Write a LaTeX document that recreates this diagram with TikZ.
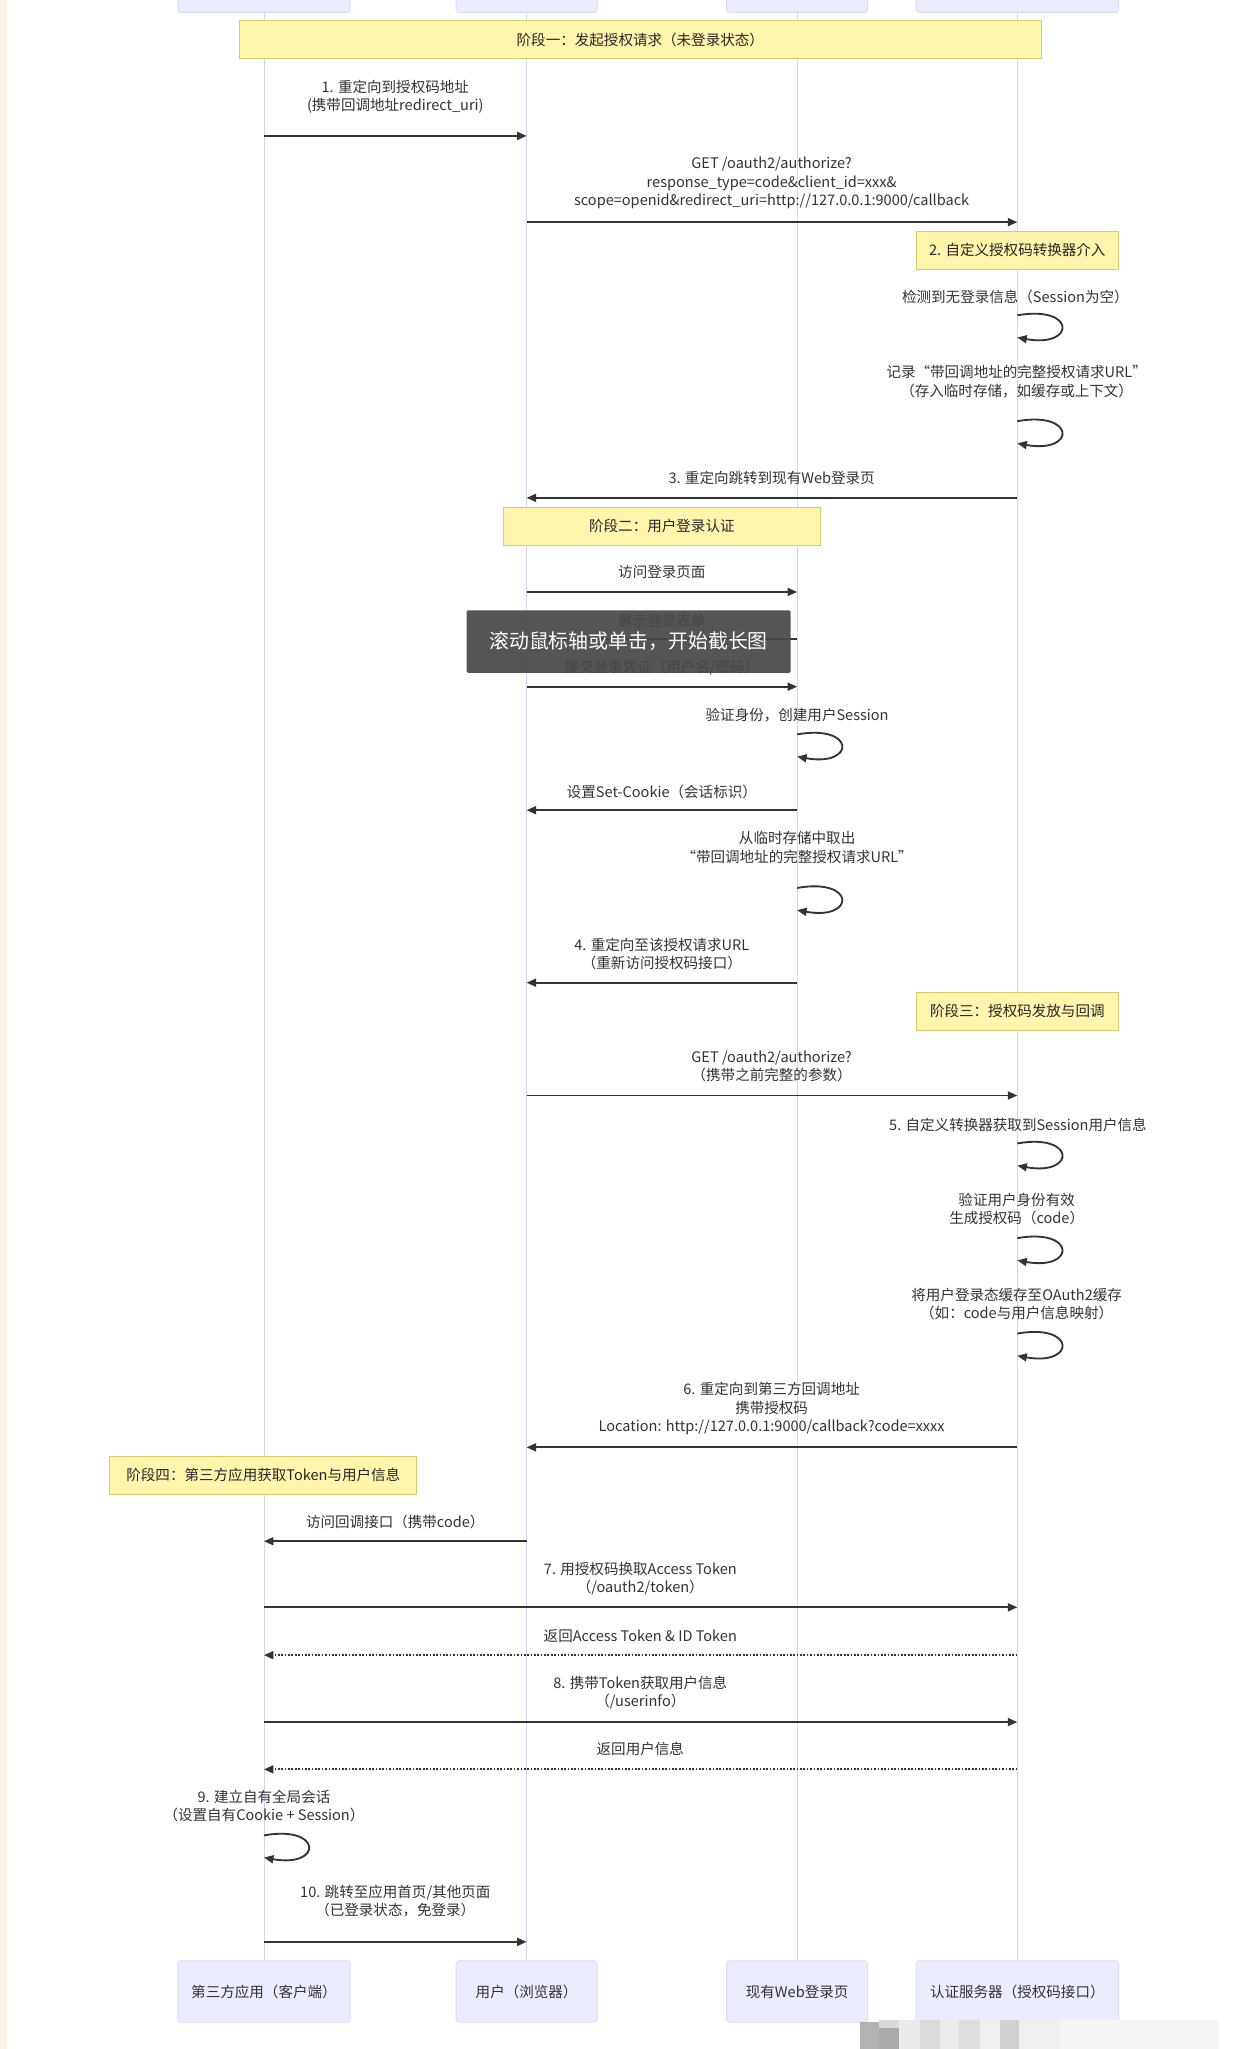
\documentclass[tikz,border=0pt]{standalone}
\usepackage{fontspec}
\setmainfont{Noto Sans CJK SC}
\usepackage{tikz}
\usetikzlibrary{arrows.meta}
\definecolor{lifelavender}{RGB}{214,212,245}
\definecolor{boxfill}{RGB}{236,236,255}
\definecolor{boxline}{RGB}{220,220,244}
\definecolor{notefill}{RGB}{255,245,173}
\definecolor{noteline}{RGB}{214,206,110}
\definecolor{msgdark}{RGB}{51,51,51}
\definecolor{creamedge}{RGB}{248,245,232}

\tikzset{
  actor/.style={draw=boxline, fill=boxfill, rounded corners=2pt, line width=0.6pt,
    inner sep=0pt, minimum height=1.41cm, text=msgdark, font=\fontsize{9.5}{12}\selectfont},
  stagenote/.style={draw=noteline, fill=notefill, line width=0.6pt, inner sep=0pt,
    minimum height=0.87cm, text=black!85, font=\fontsize{9.5}{12}\selectfont},
  life/.style={draw=lifelavender, line width=0.6pt},
  msg/.style={draw=msgdark, line width=1.2pt, -{Triangle[length=6.2pt,width=5.2pt]}},
  reply/.style={msg, dash pattern=on 1.1pt off 1.1pt},
  lbl/.style={text=msgdark, align=center, inner sep=0pt, font=\fontsize{9.5}{11.9}\selectfont},
}

\begin{document}
\begin{tikzpicture}[x=0.03cm, y=-0.03cm]
    % Canvas
    \useasboundingbox (0,0) rectangle (963,1568);
    \fill[white] (0,0) rectangle (963,1568);
    \fill[creamedge] (0,0) rectangle (5,1568);

    % Participants, top row (cut by the page edge)
    \node[actor, minimum width=3.96cm] (cliT) at (202,-14) {};
    \node[actor, minimum width=3.24cm] (usrT) at (403,-14) {};
    \node[actor, minimum width=3.24cm] (webT) at (610,-14) {};
    \node[actor, minimum width=4.65cm] (srvT) at (778.5,-14) {};

    % Participants, bottom row
    \node[actor, minimum width=3.96cm] (cli) at (202,1524) {第三方应用（客户端）};
    \node[actor, minimum width=3.24cm] (usr) at (403,1524) {用户（浏览器）};
    \node[actor, minimum width=3.24cm] (web) at (610,1524) {现有Web登录页};
    \node[actor, minimum width=4.65cm] (srv) at (778.5,1524) {认证服务器（授权码接口）};

    % Lifelines
    \draw[life] (cliT.south) -- (cli.north);
    \draw[life] (usrT.south) -- (usr.north);
    \draw[life] (webT.south) -- (web.north);
    \draw[life] (srvT.south) -- (srv.north);

    % Stage notes
    \node[stagenote, minimum width=18.42cm] (stage1) at (490,30.5) {阶段一：发起授权请求（未登录状态）};
    \node[stagenote, minimum width=4.65cm] (conv) at (778.5,191.5) {2. 自定义授权码转换器介入};
    \node[stagenote, minimum width=7.29cm] (stage2) at (506.5,402.8) {阶段二：用户登录认证};
    \node[stagenote, minimum width=4.65cm] (stage3) at (778.5,773.8) {阶段三：授权码发放与回调};
    \node[stagenote, minimum width=7.05cm] (stage4) at (201.5,1129) {阶段四：第三方应用获取Token与用户信息};

    % Stage one
    \node[lbl] (l1) at (302.5,74.2) {1. 重定向到授权码地址\\(携带回调地址redirect\_uri)};
    \coordinate (m1) at (0,104);
    \draw[msg] (cli |- m1) -- (usr |- m1);

    \node[lbl] (l2) at (590.5,140) {GET /oauth2/authorize?\\response\_type=code\&client\_id=xxx\&\\scope=openid\&redirect\_uri=http://127.0.0.1:9000/callback};
    \coordinate (m2) at (0,170);
    \draw[msg] (usr |- m2) -- (srv |- m2);

    \node[lbl] (l3) at (777,227) {检测到无登录信息（Session为空）};
    \coordinate (s1a) at (0,241.3);
    \coordinate (s1b) at (0,258.3);
    \draw[msg] (srv |- s1a) .. controls +(45,-8) and +(45,8) .. (srv |- s1b);

    \node[lbl] (l4) at (778,292) {记录“带回调地址的完整授权请求URL”\\（存入临时存储，如缓存或上下文）};
    \coordinate (s2a) at (0,322.3);
    \coordinate (s2b) at (0,339.3);
    \draw[msg] (srv |- s2a) .. controls +(45,-8) and +(45,8) .. (srv |- s2b);

    \node[lbl] (l5) at (590.5,366) {3. 重定向跳转到现有Web登录页};
    \coordinate (m3) at (0,381);
    \draw[msg] (srv |- m3) -- (usr |- m3);

    % Stage two
    \node[lbl] (l6) at (506.5,438) {访问登录页面};
    \coordinate (m4) at (0,453);
    \draw[msg] (usr |- m4) -- (web |- m4);

    \node[lbl] (l7) at (506.5,475) {展示登录表单};
    \coordinate (m5) at (0,489);
    \draw[msg] (web |- m5) -- (usr |- m5);

    \node[lbl] (l8) at (506.5,511) {提交登录凭证（用户名/密码）};
    \coordinate (m6) at (0,525.5);
    \draw[msg] (usr |- m6) -- (web |- m6);

    \node[lbl] (l9) at (610,547.6) {验证身份，创建用户Session};
    \coordinate (s3a) at (0,562);
    \coordinate (s3b) at (0,579);
    \draw[msg] (web |- s3a) .. controls +(45,-8) and +(45,8) .. (web |- s3b);

    \node[lbl] (l10) at (506.5,605.8) {设置Set-Cookie（会话标识）};
    \coordinate (m7) at (0,620);
    \draw[msg] (web |- m7) -- (usr |- m7);

    \node[lbl] (l11) at (610,648.6) {从临时存储中取出\\“带回调地址的完整授权请求URL”};
    \coordinate (s4a) at (0,679.5);
    \coordinate (s4b) at (0,696.5);
    \draw[msg] (web |- s4a) .. controls +(45,-8) and +(45,8) .. (web |- s4b);

    \node[lbl] (l12) at (506.5,730) {4. 重定向至该授权请求URL\\（重新访问授权码接口）};
    \coordinate (m8) at (0,752);
    \draw[msg] (web |- m8) -- (usr |- m8);

    % Stage three
    \node[lbl] (l13) at (590.5,816.3) {GET /oauth2/authorize?\\（携带之前完整的参数）};
    \coordinate (m9) at (0,838.3);
    \draw[msg] (usr |- m9) -- (srv |- m9);

    \node[lbl] (l14) at (779,860.5) {5. 自定义转换器获取到Session用户信息};
    \coordinate (s5a) at (0,875);
    \coordinate (s5b) at (0,892);
    \draw[msg] (srv |- s5a) .. controls +(45,-8) and +(45,8) .. (srv |- s5b);

    \node[lbl] (l15) at (778,925.5) {验证用户身份有效\\生成授权码（code）};
    \coordinate (s6a) at (0,947.5);
    \coordinate (s6b) at (0,964.5);
    \draw[msg] (srv |- s6a) .. controls +(45,-8) and +(45,8) .. (srv |- s6b);

    \node[lbl] (l16) at (778,998) {将用户登录态缓存至OAuth2缓存\\（如：code与用户信息映射）};
    \coordinate (s7a) at (0,1020.5);
    \coordinate (s7b) at (0,1037.5);
    \draw[msg] (srv |- s7a) .. controls +(45,-8) and +(45,8) .. (srv |- s7b);

    \node[lbl] (l17) at (590.5,1078) {6. 重定向到第三方回调地址\\携带授权码\\Location: http://127.0.0.1:9000/callback?code=xxxx};
    \coordinate (m10) at (0,1107.6);
    \draw[msg] (srv |- m10) -- (usr |- m10);

    % Stage four
    \node[lbl] (l18) at (302.5,1165) {访问回调接口（携带code）};
    \coordinate (m11) at (0,1179.4);
    \draw[msg] (usr |- m11) -- (cli |- m11);

    \node[lbl] (l19) at (490,1208) {7. 用授权码换取Access Token\\（/oauth2/token）};
    \coordinate (m12) at (0,1230);
    \draw[msg] (cli |- m12) -- (srv |- m12);

    \node[lbl] (l20) at (490,1252) {返回Access Token \& ID Token};
    \coordinate (m13) at (0,1266.6);
    \draw[reply] (srv |- m13) -- (cli |- m13);

    \node[lbl] (l21) at (490,1295) {8. 携带Token获取用户信息\\（/userinfo）};
    \coordinate (m14) at (0,1317.8);
    \draw[msg] (cli |- m14) -- (srv |- m14);

    \node[lbl] (l22) at (490,1338.5) {返回用户信息};
    \coordinate (m15) at (0,1354);
    \draw[reply] (srv |- m15) -- (cli |- m15);

    \node[lbl] (l23) at (202,1382) {9. 建立自有全局会话\\（设置自有Cookie + Session）};
    \coordinate (s8a) at (0,1404.5);
    \coordinate (s8b) at (0,1421.5);
    \draw[msg] (cli |- s8a) .. controls +(45,-8) and +(45,8) .. (cli |- s8b);

    \node[lbl] (l24) at (302.5,1455) {10. 跳转至应用首页/其他页面\\（已登录状态，免登录）};
    \coordinate (m16) at (0,1486);
    \draw[msg] (cli |- m16) -- (usr |- m16);

    % Screenshot tool overlay
    \node[fill=black!72, fill opacity=0.92, text opacity=1, text=white, rounded corners=1pt,
      minimum width=7.44cm, minimum height=1.44cm, inner sep=0pt,
      font=\fontsize{13}{15}\selectfont] (shot) at (481,491) {滚动鼠标轴或单击，开始截长图};

    % Pixelated patch, bottom right
    \fill[black!30] (658,1547) rectangle (673,1568);
    \fill[black!15] (673,1546) rectangle (688,1552);
    \fill[black!33] (673,1552) rectangle (688,1568);
    \fill[black!8] (688,1546) rectangle (704,1568);
    \fill[black!14] (704,1546) rectangle (719,1568);
    \fill[black!7] (719,1546) rectangle (734,1568);
    \fill[black!13] (734,1546) rectangle (750,1568);
    \fill[black!6] (750,1546) rectangle (765,1568);
    \fill[black!18] (765,1546) rectangle (780,1568);
    \fill[black!6] (780,1546) rectangle (811,1568);
    \fill[black!4] (811,1546) rectangle (933,1568);
\end{tikzpicture}
\end{document}
